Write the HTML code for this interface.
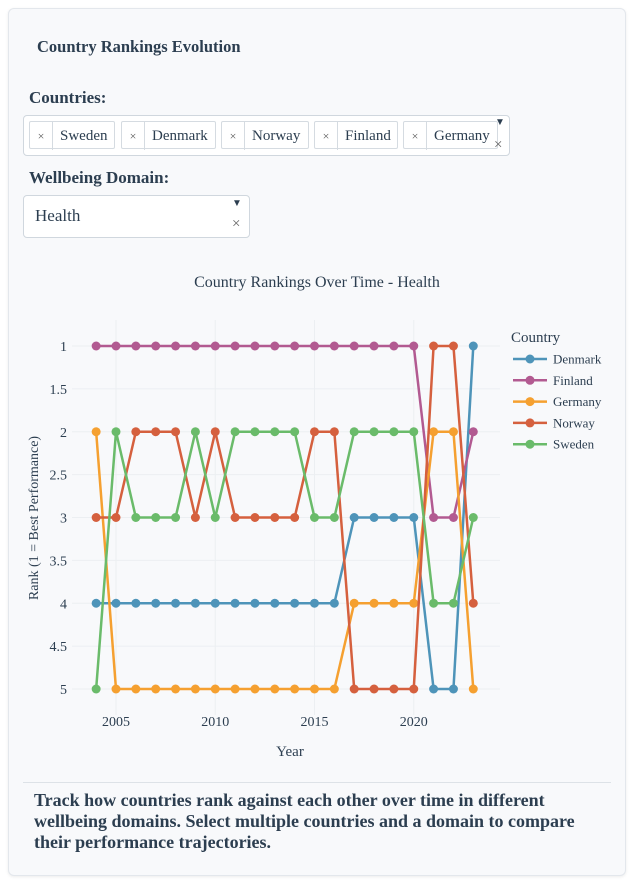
<!DOCTYPE html>
<html><head><meta charset="utf-8"><style>
body{margin:0;width:634px;height:884px;background:#fff;font-family:"Liberation Serif",serif;color:#2c3e50;position:relative;overflow:hidden}
.card{position:absolute;left:8px;top:8px;width:616px;height:866px;background:#f8f9fb;border:1px solid #e3e7ec;border-radius:6px;box-shadow:0 1px 3px rgba(0,0,0,.08)}
.abs{position:absolute}
.lbl{font-weight:bold;font-size:17px}
.tag{position:absolute;top:121px;height:28px;border:1px solid #d5dbe1;border-radius:2px;background:#fff;font-size:15px;line-height:28px;box-sizing:border-box;white-space:nowrap}
.tag .x{display:inline-block;width:22px;text-align:center;border-right:1px solid #d5dbe1;font-size:12px;color:#555}
.tag .t{padding-left:7px}
</style></head><body>
<div class="card"></div>
<div class="abs lbl" style="left:37px;top:37px;font-size:16.5px">Country Rankings Evolution</div>
<div class="abs lbl" style="left:29px;top:88px">Countries:</div>
<div class="abs" style="left:23px;top:115px;width:487px;height:41px;border:1px solid #d0d7de;border-radius:4px;background:#fff;box-sizing:border-box"></div>
<div class="tag" style="left:29px;width:86px"><span class="x">×</span><span class="t">Sweden</span></div>
<div class="tag" style="left:121px;width:95px"><span class="x">×</span><span class="t">Denmark</span></div>
<div class="tag" style="left:221px;width:88px"><span class="x">×</span><span class="t">Norway</span></div>
<div class="tag" style="left:314px;width:84px"><span class="x">×</span><span class="t">Finland</span></div>
<div class="tag" style="left:403px;width:95px"><span class="x">×</span><span class="t">Germany</span></div>
<div class="abs" style="left:495px;top:117px;font-size:10px">▼</div>
<div class="abs" style="left:494px;top:137px;font-size:15px;color:#666">×</div>
<div class="abs lbl" style="left:29px;top:168px">Wellbeing Domain:</div>
<div class="abs" style="left:23px;top:195px;width:227px;height:43px;border:1px solid #d0d7de;border-radius:4px;background:#fff;box-sizing:border-box">
<span class="abs" style="left:11px;top:10px;font-size:17px">Health</span>
<span class="abs" style="left:208px;top:2px;font-size:10px">▼</span>
<span class="abs" style="left:208px;top:20px;font-size:15px;color:#666">×</span>
</div>
<svg id="chart" class="abs" style="left:0;top:250px" width="634" height="530"></svg>
<div class="abs" style="left:23px;top:782px;width:588px;border-top:1px solid #dde2e7"></div>
<div class="abs lbl" style="left:34px;top:790px;width:560px;line-height:21px;font-size:18px">Track how countries rank against each other over time in different wellbeing domains. Select multiple countries and a domain to compare their performance trajectories.</div>
<script>
const years=[2004,2005,2006,2007,2008,2009,2010,2011,2012,2013,2014,2015,2016,2017,2018,2019,2020,2021,2022,2023];
const countries=["Denmark","Finland","Germany","Norway","Sweden"];
const colors=["#4e94b9","#b25a91","#f5a030","#d5603e","#6abb6a"];
const denmark=[4,4,4,4,4,4,4,4,4,4,4,4,4,3,3,3,3,5,5,1];
const finland=[1,1,1,1,1,1,1,1,1,1,1,1,1,1,1,1,1,3,3,2];
const germany=[2,5,5,5,5,5,5,5,5,5,5,5,5,4,4,4,4,2,2,5];
const norway=[3,3,2,2,2,3,2,3,3,3,3,2,2,5,5,5,5,1,1,4];
const sweden=[5,2,3,3,3,2,3,2,2,2,2,3,3,2,2,2,2,4,4,3];
const yTicks=[1,1.5,2,2.5,3,3.5,4,4.5,5];
const xTicks=[2005,2010,2015,2020];
const series=[denmark,finland,germany,norway,sweden];
const off=250;
const X=y=>116+(y-2005)*19.85;
const Y=r=>346+(r-1)*85.75-off;
const ns="http://www.w3.org/2000/svg";
const svg=document.getElementById('chart');
function mk(t,a,txt){const e=document.createElementNS(ns,t);for(const k in a)e.setAttribute(k,a[k]);if(txt!==undefined)e.textContent=txt;svg.appendChild(e);return e;}
let e;
yTicks.forEach(v=>{
 e=mk('line',{x1:72,x2:500,y1:Y(v),y2:Y(v),stroke:'#eceff2'});
 
 
 e=mk('text',{x:67,y:Y(v)+5,'text-anchor':'end','font-size':14,fill:'#2c3e50','font-family':'Liberation Serif'},String(v));
 
 
});
xTicks.forEach(v=>{
 e=mk('line',{x1:X(v),x2:X(v),y1:70,y2:465,stroke:'#eceff2'});
 
 
 e=mk('text',{x:X(v),y:476,'text-anchor':'middle','font-size':14,fill:'#2c3e50','font-family':'Liberation Serif'},String(v));
 
 
});
e=mk('text',{x:317,y:37,'text-anchor':'middle','font-size':16,fill:'#2c3e50','font-family':'Liberation Serif'},'Country Rankings Over Time - Health');


e=mk('text',{x:290,y:506,'text-anchor':'middle','font-size':15,fill:'#2c3e50','font-family':'Liberation Serif'},'Year');


e=mk('text',{x:0,y:0,transform:'translate(38,268) rotate(-90)','text-anchor':'middle','font-size':14,fill:'#2c3e50','font-family':'Liberation Serif'},'Rank (1 = Best Performance)');


series.forEach((s,i)=>{
 const pts=s.map((v,j)=>X(years[j])+','+Y(v)).join(' ');
 e=mk('polyline',{points:pts,fill:'none',stroke:colors[i],'stroke-width':2.5});
 
 
 s.forEach((v,j)=>{
  e=mk('circle',{cx:X(years[j]),cy:Y(v),r:4.5,fill:colors[i]});
  
  
 });
});
e=mk('text',{x:511,y:92,'font-size':15,fill:'#2c3e50','font-family':'Liberation Serif'},'Country');


countries.forEach((c,i)=>{
 const ly=109+i*21.3;
 e=mk('line',{x1:513,x2:547,y1:ly,y2:ly,stroke:colors[i],'stroke-width':2.5});
 
 
 e=mk('circle',{cx:530,cy:ly,r:4.5,fill:colors[i]});
 
 
 e=mk('text',{x:553,y:ly+4.5,'font-size':13,fill:'#2c3e50','font-family':'Liberation Serif'},c);
 
 
});
</script>
</body></html>
